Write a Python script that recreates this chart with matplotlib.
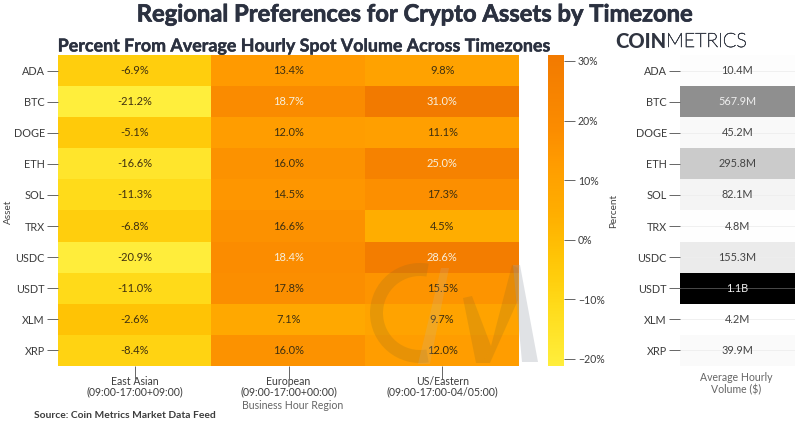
import numpy as np
import matplotlib
matplotlib.use("Agg")
import matplotlib.pyplot as plt
import matplotlib.patheffects as pe
from matplotlib.colors import LinearSegmentedColormap, Normalize
from matplotlib.patches import Polygon, Wedge
from matplotlib.cm import ScalarMappable

plt.rcParams['font.family'] = ['Lato', 'DejaVu Sans']

assets = ["ADA", "BTC", "DOGE", "ETH", "SOL", "TRX", "USDC", "USDT", "XLM", "XRP"]
regions = ["East Asian\n(09:00-17:00+09:00)", "European\n(09:00-17:00+00:00)", "US/Eastern\n(09:00-17:00-04/05:00)"]
east_asian = [-6.9, -21.2, -5.1, -16.6, -11.3, -6.8, -20.9, -11.0, -2.6, -8.4]
european = [13.4, 18.7, 12.0, 16.0, 14.5, 16.6, 18.4, 17.8, 7.1, 16.0]
us_eastern = [9.8, 31.0, 11.1, 25.0, 17.3, 4.5, 28.6, 15.5, 9.7, 12.0]
volume_m = [10.4, 567.9, 45.2, 295.8, 82.1, 4.8, 155.3, 1100.0, 4.2, 39.9]
volume_labels = ["10.4M", "567.9M", "45.2M", "295.8M", "82.1M", "4.8M", "155.3M", "1.1B", "4.2M", "39.9M"]
cbar_ticks = [-20, -10, 0, 10, 20, 30]
cbar_labels = ["\u221220%", "\u221210%", "0%", "10%", "20%", "30%"]

W, H = 800, 426
def box(x0, y0, x1, y1):
    return [x0 / W, 1 - y1 / H, (x1 - x0) / W, (y1 - y0) / H]

DARK = "#2b3140"
TXT = "#3c3c3c"
heat = np.array([east_asian, european, us_eastern]).T
cmap = LinearSegmentedColormap.from_list("hm", [
    (0.0, "#FFEE3C"), (0.19, "#FFDB1A"), (0.274, "#FFCF0E"), (0.36, "#FFC305"),
    (0.49, "#FFAE00"), (0.594, "#FFA300"), (0.663, "#FF9A00"), (0.764, "#FB8C00"), (1.0, "#F27A00")])
norm = Normalize(-21.2, 31.0)
gcmap = LinearSegmentedColormap.from_list("gr", [
    (0, "#ffffff"), (0.14, "#ececec"), (0.27, "#cbcbcb"), (0.516, "#909090"), (1, "#000000")])

fig = plt.figure(figsize=(8, 4.26), dpi=100, facecolor="white")

ax = fig.add_axes(box(58, 55, 519, 366))
ax.imshow(heat, cmap=cmap, norm=norm, aspect="auto", interpolation="nearest")
for r in range(heat.shape[0]):
    for c in range(heat.shape[1]):
        v = heat[r, c]
        ax.text(c, r, f"{v:.1f}%", ha="center", va="center", fontsize=8,
                color="#f7efdc" if v > 18 else "#3f3010")
ax.set_xticks(range(3), regions, fontsize=7.6, color=TXT, linespacing=1.0)
ax.set_yticks(range(10), assets, fontsize=7.8, color=TXT)
ax.tick_params(axis="y", length=8, width=0.7, color="#666666", pad=1.5)
ax.tick_params(axis="x", length=9, width=0.7, color="#666666", pad=-2)
for s in ax.spines.values():
    s.set_visible(False)
fig.text(293 / W, 1 - 405.5 / H, "Business Hour Region", ha="center", va="center", fontsize=7.6, color="#666666")
fig.text(8 / W, 1 - 212 / H, "Asset", rotation=90, ha="center", va="center", fontsize=7.2, color="#444444")

cax = fig.add_axes(box(548, 55, 564, 366))
cb = fig.colorbar(ScalarMappable(norm=norm, cmap=cmap), cax=cax)
cb.set_ticks(cbar_ticks, labels=cbar_labels)
cb.ax.tick_params(length=8, width=0.7, color="#666666", labelsize=7.6, labelcolor=TXT, pad=2)
cb.outline.set_visible(False)
cb.set_label("Percent", fontsize=7.2, color="#444444", labelpad=3)

rax = fig.add_axes(box(680, 55, 795, 366))
rax.imshow(np.array(volume_m)[:, None], cmap=gcmap, vmin=0, vmax=1100, aspect="auto", interpolation="nearest")
rax.set_yticks(range(10), assets, fontsize=7.8, color=TXT)
rax.set_xticks([])
rax.tick_params(axis="y", length=8, width=0.7, color="#666666", pad=1.5)
for i, (v, t) in enumerate(zip(volume_m, volume_labels)):
    if v < 200 or v > 1000:
        rax.axhline(i, color="#555555" if v > 1000 else "#eeeeee", lw=0.6, zorder=1)
    rax.text(0, i, t, ha="center", va="center", fontsize=7.8,
             color="#eeeeee" if v > 500 else "#444444", zorder=3)
for s in rax.spines.values():
    s.set_visible(False)
fig.text(736 / W, 1 - 384 / H, "Average Hourly\nVolume ($)", ha="center", va="center",
         fontsize=7.6, color="#666666", linespacing=1.1)

fig.text(414 / W, 1 - 14 / H, "Regional Preferences for Crypto Assets by Timezone", ha="center",
         va="center", fontsize=17.1, fontweight="bold", color=DARK,
         path_effects=[pe.withStroke(linewidth=0.5, foreground=DARK)])
fig.text(305.5 / W, 1 - 46 / H, "Percent From Average Hourly Spot Volume Across Timezones", ha="center",
         va="center", fontsize=12.85, fontweight="bold", color=DARK,
         path_effects=[pe.withStroke(linewidth=0.3, foreground=DARK)])
fig.text(34 / W, 1 - 415 / H, "Source: Coin Metrics Market Data Feed", ha="left", va="center",
         fontsize=7.35, fontweight="bold", color="#3c3c3c")
t1 = fig.text(615 / W, 1 - 42 / H, "COIN", ha="left", va="center", fontsize=14.5, fontweight="black", color="#2f3440")
fig.canvas.draw()
bb = t1.get_window_extent()
fig.text(bb.x1 / W, 1 - 42 / H, "METRICS", ha="left", va="center", fontsize=14.2, fontweight="light", color="#3a3f4a",
         path_effects=[pe.withStroke(linewidth=0.45, foreground="#3a3f4a")])

# faint CM watermark
ov = fig.add_axes([0, 0, 1, 1], facecolor="none")
ov.set_xlim(0, W); ov.set_ylim(H, 0); ov.axis("off")
BR = "#8a6a20"
ov.add_patch(Wedge((420, 313), 50, 80, 280, width=13, fc=BR, alpha=0.2, lw=0))
ov.add_patch(Polygon([(441, 268), (449, 268), (430, 364), (418, 364)], fc="#c0b8a8", alpha=0.2, lw=0))
ov.add_patch(Polygon([(463, 298), (472, 296), (491, 346), (483, 363), (476, 363)], fc=BR, alpha=0.2, lw=0))
ov.add_patch(Polygon([(483, 363), (491, 346), (512, 265), (518, 268), (518, 300), (490, 363)], fc=BR, alpha=0.2, lw=0))
ov.add_patch(Polygon([(513, 265), (520, 265), (538, 362), (522, 362)], fc="#9aa0aa", alpha=0.3, lw=0))

fig.savefig("out.png", dpi=100)
